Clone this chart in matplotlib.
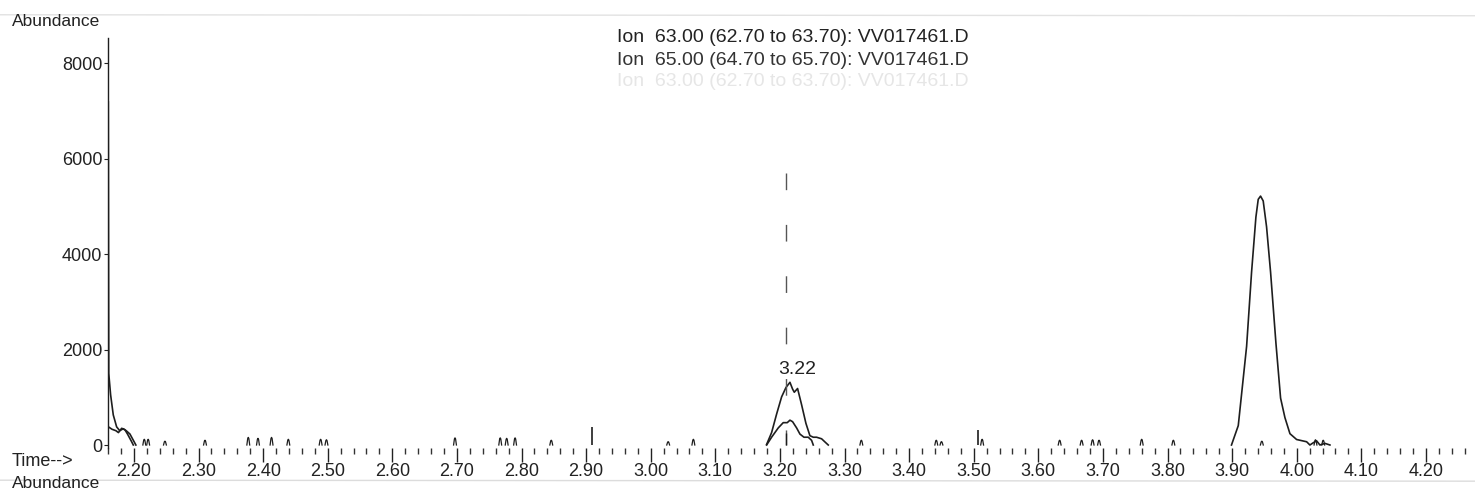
import numpy as np
import matplotlib
matplotlib.use('Agg')
import matplotlib.pyplot as plt
from matplotlib.ticker import MultipleLocator

plt.rcParams['font.family'] = ['Liberation Sans', 'DejaVu Sans']

# ---- data (time in min, abundance) ----
# ion 63 trace, solvent front at the very start
ion63_start_t = [2.1600, 2.1602, 2.1610, 2.1639, 2.1680, 2.1732, 2.1780, 2.1834, 2.1880, 2.1938, 2.1990, 2.2030]
ion63_start_y = [0, 7200, 1500, 1050, 630, 380, 300, 340, 300, 230, 100, 0]
# ion 65 trace at the start
ion65_start_t = [2.1605, 2.1660, 2.1720, 2.1760, 2.1810, 2.1860, 2.1900, 2.1960, 2.1990]
ion65_start_y = [380, 330, 300, 260, 350, 320, 230, 80, 0]

# peak at 3.22
ion63_p322_t = [3.1794, 3.1871, 3.1949, 3.2026, 3.2093, 3.2155, 3.2196, 3.2222, 3.2273, 3.2335,
                3.2402, 3.2464, 3.2516, 3.2567, 3.2645, 3.2696, 3.2748]
ion63_p322_y = [13, 260, 650, 1008, 1203, 1313, 1170, 1105, 1183, 845,
                455, 195, 163, 163, 130, 65, 0]
ion65_p322_t = [3.1794, 3.1871, 3.1974, 3.2051, 3.2113, 3.2155, 3.2196, 3.2258, 3.2310, 3.2372,
                3.2438, 3.2490, 3.2516]
ion65_p322_y = [0, 163, 358, 468, 468, 520, 488, 358, 228, 163,
                163, 98, 0]

# big peak at 3.94 (ion 63)
ion63_p394_t = [3.8990, 3.9095, 3.9224, 3.9301, 3.9368, 3.9404, 3.9440, 3.9481, 3.9533, 3.9595,
                3.9678, 3.9750, 3.9817, 3.9895, 3.9998, 4.0153, 4.0204, 4.0256, 4.0307, 4.0359,
                4.0437, 4.0514]
ion63_p394_y = [0, 406, 2065, 3622, 4773, 5145, 5213, 5111, 4570, 3622,
                2133, 982, 575, 237, 115, 68, 0, 47, 88, 0,
                34, 0]

# small noise blips on the baseline
blip_t = [2.216, 2.222, 2.248, 2.310, 2.377, 2.392, 2.413, 2.439, 2.489, 2.498,
          2.697, 2.767, 2.777, 2.790, 2.846, 3.027, 3.066, 3.326, 3.442, 3.450,
          3.513, 3.633, 3.667, 3.684, 3.694, 3.760, 3.809, 3.946, 4.029, 4.041]
blip_h = [120, 120, 80, 100, 160, 140, 160, 120, 120, 110,
          150, 150, 140, 150, 100, 70, 120, 100, 100, 70,
          120, 100, 100, 110, 100, 120, 100, 80, 110, 100]

# single-scan spikes
spike_t = [2.9085, 3.507]
spike_h = [380, 320]

# retention time marker and label
rt_marker = 3.210
rt_label = '3.22'
rt_label_t = 3.226

legend_lines = ['Ion  63.00 (62.70 to 63.70): VV017461.D',
                'Ion  65.00 (64.70 to 65.70): VV017461.D']

yticks = [0, 2000, 4000, 6000, 8000]

# ---- figure ----
fig = plt.figure(figsize=(14.75, 4.92), dpi=100)
ax = fig.add_axes([0.0732, 0.0897, 0.922, 0.8327])
ink = '#1e1e1e'

ax.plot(ion63_start_t, ion63_start_y, color=ink, lw=1.2)
ax.plot(ion65_start_t, ion65_start_y, color=ink, lw=1.2)
ax.plot(ion63_p322_t, ion63_p322_y, color=ink, lw=1.2)
ax.plot(ion65_p322_t, ion65_p322_y, color=ink, lw=1.2)
ax.plot(ion63_p394_t, ion63_p394_y, color=ink, lw=1.2)

w = 0.0022
for t, h in zip(blip_t, blip_h):
    ax.plot([t - w, t - w * 0.4, t, t + w * 0.4, t + w], [0, h * 0.85, h, h * 0.85, 0], color=ink, lw=0.9)
ax.vlines(spike_t, 0, spike_h, color=ink, lw=1.2)

# dashed retention time marker
ax.plot([rt_marker, rt_marker], [5700, 0], color='#555555', lw=1.0, dashes=(12, 25))
ax.vlines([rt_marker], 0, 250, color=ink, lw=1.0)
ax.text(rt_label_t, 1400, rt_label, ha='center', va='bottom', fontsize=14, color='#222222')

ax.set_xlim(2.1598, 4.265)
ax.set_ylim(-60, 8520)
for s in ['top', 'right', 'bottom']:
    ax.spines[s].set_visible(False)
ax.spines['left'].set_color(ink)
ax.spines['left'].set_linewidth(1.0)

ax.set_yticks(yticks)
ax.set_yticklabels([str(v) for v in yticks])
ax.tick_params(axis='y', direction='out', length=3, width=0.8, pad=1, labelsize=13, colors='#222222')

ax.xaxis.set_major_locator(MultipleLocator(0.1))
ax.xaxis.set_minor_locator(MultipleLocator(0.02))
ax.xaxis.set_major_formatter(matplotlib.ticker.FormatStrFormatter('%.2f'))
ax.tick_params(axis='x', which='major', direction='out', length=10, width=1.0, pad=1, labelsize=13, colors='#222222')
ax.tick_params(axis='x', which='minor', direction='out', length=4, width=1.0, colors='#333333')

# header and axis captions
fig.text(0.008, 0.957, 'Abundance', fontsize=12.5, va='center', ha='left', color='#222222')
fig.text(0.008, 0.063, 'Time-->', fontsize=13, va='center', ha='left', color='#222222')
fig.text(0.008, 0.002, 'Abundance', fontsize=12.5, va='bottom', ha='left', color='#222222')

fig.text(0.4183, 0.9228, legend_lines[0], fontsize=14, va='center', ha='left', color='#222222')
fig.text(0.4183, 0.877, legend_lines[1], fontsize=14, va='center', ha='left', color='#333333')
# faint show-through from the reverse side of the page
fig.text(0.4183, 0.834, legend_lines[0], fontsize=14, va='center', ha='left', color='#e6e6e6')

# faint scan lines near top and bottom of the page
fig.add_artist(plt.Line2D([0, 1], [0.97, 0.968], color='#e2e2e2', lw=1.0))
fig.add_artist(plt.Line2D([0, 1], [0.024, 0.022], color='#dcdcdc', lw=1.0))

fig.savefig('out.png', dpi=100)
